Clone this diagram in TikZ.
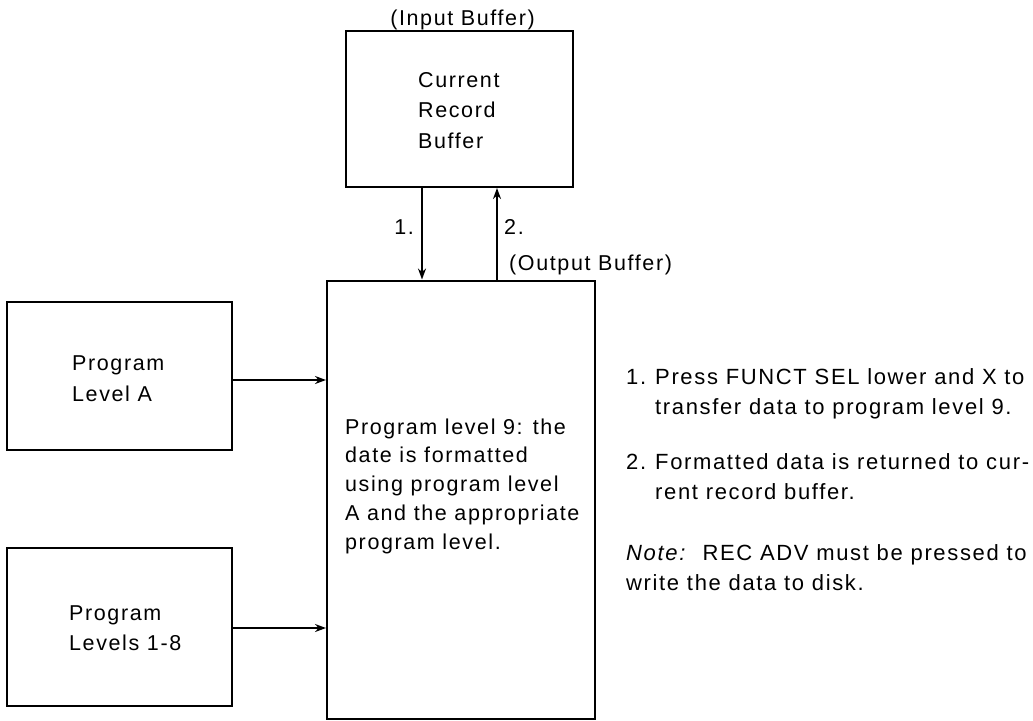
\documentclass[tikz,border=0pt]{standalone}
\usepackage{fontspec}
\setmainfont[LetterSpace=7.5]{Liberation Sans}
\usetikzlibrary{arrows.meta}
\begin{document}
\begin{tikzpicture}[x=1pt,y=-1pt,
  box/.style={draw, line width=2pt, inner sep=0pt},
  lbl/.style={inner sep=0pt, align=left, font=\fontsize{21.5}{30.5}\selectfont},
  note/.style={lbl, anchor=base west, font=\fontsize{22}{30.5}\selectfont},
  conn/.style={line width=2pt, -{Stealth[length=11pt,width=8pt]}}]
\useasboundingbox (0,0) rectangle (1033,720);
% boxes
\node[box, minimum width=227pt, minimum height=156pt] (buf) at (459.5,109) {};
\node[box, minimum width=268pt, minimum height=438pt] (main) at (461,499.5) {};
\node[box, minimum width=225pt, minimum height=148pt] (pa) at (119.5,376) {};
\node[box, minimum width=225pt, minimum height=158pt] (pb) at (119.5,627) {};
% box texts
\node[lbl, anchor=base west] (tb1) at (418,87) {Current};
\node[lbl, anchor=base west] (tb2) at (418,117.5) {Record};
\node[lbl, anchor=base west] (tb3) at (418,148) {Buffer};
\node[lbl, anchor=base west] (ta1) at (72,370) {Program};
\node[lbl, anchor=base west] (ta2) at (72,401) {Level A};
\node[lbl, anchor=base west] (tc1) at (69,620) {Program};
\node[lbl, anchor=base west] (tc2) at (69,650) {Levels 1-8};
\node[lbl, anchor=base west] (m1) at (345,434) {Program level 9: the};
\node[lbl, anchor=base west] (m2) at (345,462.75) {date is formatted};
\node[lbl, anchor=base west] (m3) at (345,491.5) {using program level};
\node[lbl, anchor=base west] (m4) at (345,520.25) {A and the appropriate};
\node[lbl, anchor=base west] (m5) at (345,549) {program level.};
% labels
\node[lbl, anchor=base] (inbuf) at (462.5,25) {(Input Buffer)};
\coordinate (x1) at (422,0);
\coordinate (x2) at (497,0);
\coordinate (ya) at (0,380);
\coordinate (yb) at (0,628);
\draw[conn] (buf.south -| x1) -- (main.north -| x1);
\draw[conn] (main.north -| x2) -- (buf.south -| x2);
\node[lbl, anchor=base east] (l1) at (414,234.5) {1.};
\node[lbl, anchor=base west] (l2) at (504,234.5) {2.};
\node[lbl, anchor=base west] (outbuf) at (509,270) {(Output Buffer)};
\draw[conn] (pa.east |- ya) -- (main.west |- ya);
\draw[conn] (pb.east |- yb) -- (main.west |- yb);
% notes
\node[note] (n1) at (626,384.5) {1.};
\node[note] (r1) at (655,384.5) {Press FUNCT SEL lower and X to};
\node[note] (r2) at (655,414.5) {transfer data to program level 9.};
\node[note] (n2) at (626,469.5) {2.};
\node[note] (r3) at (655,469.5) {Formatted data is returned to cur-};
\node[note] (r4) at (655,499.5) {rent record buffer.};
\node[note] (r5) at (626,560.5) {\textit{Note:}\ \ REC ADV must be pressed to};
\node[note] (r6) at (626,590.5) {write the data to disk.};
\end{tikzpicture}
\end{document}
